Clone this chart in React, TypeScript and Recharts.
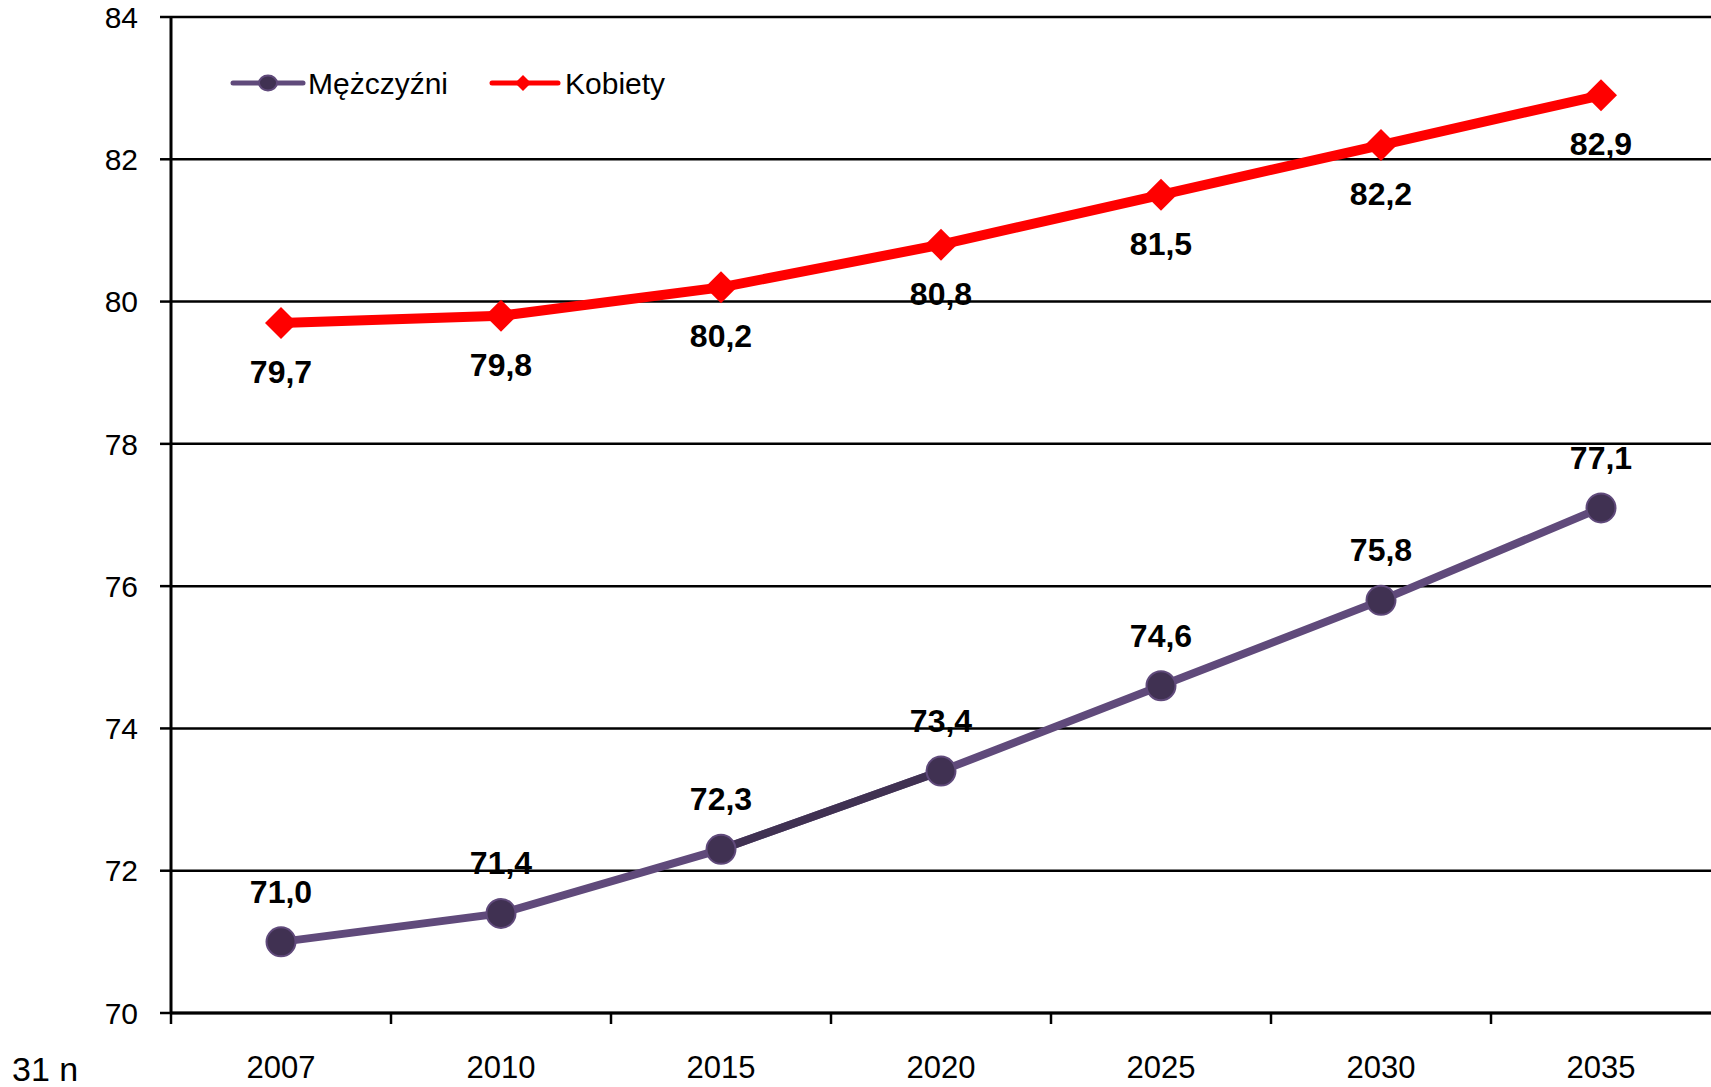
import React from 'react';
import { LineChart, Line, XAxis, YAxis, CartesianGrid, Legend, LabelList } from 'recharts';

const years = ['2007', '2010', '2015', '2020', '2025', '2030', '2035'];
const men = [71.0, 71.4, 72.3, 73.4, 74.6, 75.8, 77.1];
const women = [79.7, 79.8, 80.2, 80.8, 81.5, 82.2, 82.9];
const highlightedMenIdx = [2, 3];
const yTicks = [70, 72, 74, 76, 78, 80, 82, 84];
const menName = 'Mężczyźni';
const womenName = 'Kobiety';
const cornerText = '31 n';

const W = 1711;
const H = 1087;
const Y_AXIS_W = 171;
const TOP = 17;
const X_AXIS_H = 74;
const PLOT_W = W - Y_AXIS_W;
const BAND = PLOT_W / years.length;
const FONT = '"Liberation Sans", Arial, sans-serif';

const MEN_LINE = '#604A7B';
const MEN_DARK = '#403152';
const RED = '#FF0000';

const data = years.map((y, i) => ({
  x: i + 0.5,
  year: y,
  men: men[i],
  women: women[i],
  menDark: highlightedMenIdx.includes(i) ? men[i] : null,
}));

const fmt = (v: any) => Number(v).toFixed(1).replace('.', ',');

const XTick = (props: any) => {
  const { x, y, payload } = props;
  const idx = Math.round(payload.value - 0.5);
  const bx = x - BAND / 2;
  return (
    <g>
      <line x1={bx} y1={y} x2={bx} y2={y + 11} stroke="#000" strokeWidth={2.5} />
      <text x={x} y={y + 65} textAnchor="middle" fontSize={31} fontFamily={FONT} fill="#000">
        {years[idx]}
      </text>
    </g>
  );
};

const MenDot = (props: any) => {
  const { cx, cy, index } = props;
  if (cx == null || cy == null) return <g key={`md-${index}`} />;
  return <circle key={`md-${index}`} cx={cx} cy={cy} r={14.5} fill={MEN_DARK} stroke={MEN_LINE} strokeWidth={2} />;
};

const WomenDot = (props: any) => {
  const { cx, cy, index } = props;
  if (cx == null || cy == null) return <g key={`wd-${index}`} />;
  const s = 16;
  return (
    <path
      key={`wd-${index}`}
      d={`M${cx},${cy - s}L${cx + s},${cy}L${cx},${cy + s}L${cx - s},${cy}Z`}
      fill={RED}
    />
  );
};

const MenLabel = (props: any) => {
  const { x, y, value, index } = props;
  return (
    <text key={`ml-${index}`} x={x} y={y - 39} textAnchor="middle" fontSize={32} fontWeight="bold" fontFamily={FONT} fill="#000">
      {fmt(value)}
    </text>
  );
};

const WomenLabel = (props: any) => {
  const { x, y, value, index } = props;
  return (
    <text key={`wl-${index}`} x={x} y={y + 60} textAnchor="middle" fontSize={32} fontWeight="bold" fontFamily={FONT} fill="#000">
      {fmt(value)}
    </text>
  );
};

const LegendContent = () => (
  <svg width={700} height={120} style={{ display: 'block' }}>
    <line x1={233} y1={83} x2={303} y2={83} stroke={MEN_LINE} strokeWidth={5} strokeLinecap="round" />
    <ellipse cx={268} cy={83} rx={9} ry={7.5} fill={MEN_DARK} stroke={MEN_LINE} strokeWidth={2} />
    <text x={308} y={94} fontSize={30} fontFamily={FONT} fill="#000">{menName}</text>
    <line x1={492} y1={83} x2={558} y2={83} stroke={RED} strokeWidth={5} strokeLinecap="round" />
    <path d="M523,75L531,83L523,91L515,83Z" fill={RED} />
    <text x={565} y={94} fontSize={30} fontFamily={FONT} fill="#000">{womenName}</text>
  </svg>
);

export default function App() {
  return (
    <div style={{ position: 'absolute', left: 0, top: 0, width: W, height: H, background: '#fff' }}>
      <LineChart width={W} height={H} data={data} margin={{ top: TOP, right: 0, left: 0, bottom: 0 }}>
        <CartesianGrid horizontal vertical={false} stroke="#000" strokeWidth={2.5} />
        <XAxis
          type="number"
          dataKey="x"
          domain={[0, years.length]}
          ticks={data.map((d) => d.x)}
          height={X_AXIS_H}
          tickSize={0}
          tickMargin={0}
          tickLine={false}
          axisLine={{ stroke: '#000', strokeWidth: 3 }}
          tick={<XTick />}
          interval={0}
        />
        <YAxis
          type="number"
          domain={[70, 84]}
          ticks={yTicks}
          width={Y_AXIS_W}
          tickSize={11}
          tickMargin={22}
          interval={0}
          axisLine={{ stroke: '#000', strokeWidth: 3 }}
          tickLine={{ stroke: '#000', strokeWidth: 2.5 }}
          tick={{ fill: '#000', fontSize: 30, fontFamily: FONT }}
        />
        <Legend
          layout="vertical"
          align="center"
          verticalAlign="middle"
          content={<LegendContent />}
          wrapperStyle={{ left: 0, top: 0, width: 700, height: 120 }}
        />
        <Line
          dataKey="men"
          name={menName}
          stroke={MEN_LINE}
          strokeWidth={8}
          dot={false}
          activeDot={false}
          isAnimationActive={false}
          legendType="none"
        />
        <Line
          dataKey="menDark"
          stroke={MEN_DARK}
          strokeWidth={8}
          dot={false}
          activeDot={false}
          connectNulls={false}
          isAnimationActive={false}
          legendType="none"
        />
        <Line
          dataKey="men"
          stroke="none"
          strokeWidth={0}
          dot={<MenDot />}
          activeDot={false}
          isAnimationActive={false}
          legendType="none"
        >
          <LabelList dataKey="men" content={<MenLabel />} />
        </Line>
        <Line
          dataKey="women"
          name={womenName}
          stroke={RED}
          strokeWidth={10}
          dot={<WomenDot />}
          activeDot={false}
          isAnimationActive={false}
          legendType="none"
        >
          <LabelList dataKey="women" content={<WomenLabel />} />
        </Line>
      </LineChart>
      <svg width={80} height={40} style={{ position: 'absolute', left: 0, top: 1050 }}>
        <text x={12} y={31} fontSize={34} fontFamily={FONT} fill="#000">{cornerText}</text>
      </svg>
    </div>
  );
}
